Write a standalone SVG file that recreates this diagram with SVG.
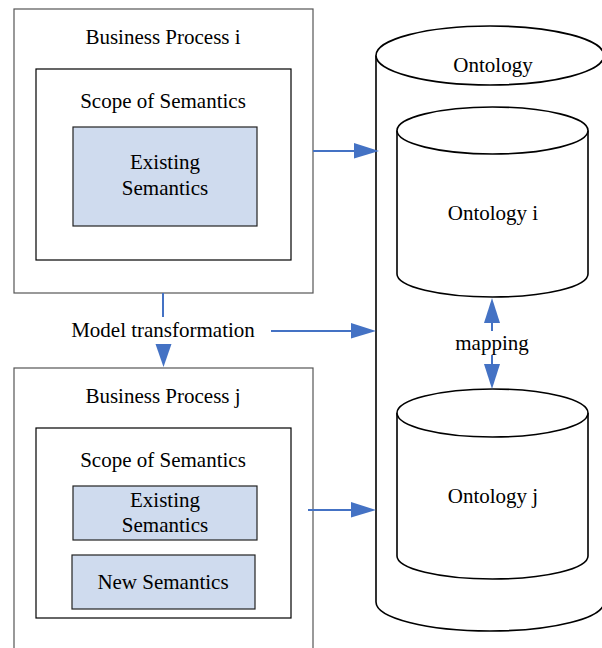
<svg xmlns="http://www.w3.org/2000/svg" width="602" height="648" viewBox="0 0 602 648">
<style>
  text { font-family: "Liberation Serif", "Times New Roman", serif; font-size: 21px; fill: #000; text-anchor: middle; }
  .outer { fill: #fff; stroke: #555; stroke-width: 1.2; }
  .scope { fill: #fff; stroke: #000; stroke-width: 1.2; }
  .sem { fill: #cfdbee; stroke: #222; stroke-width: 1.2; }
  .cyl { fill: #fff; stroke: #000; stroke-width: 1.6; }
  .conn { stroke: #4472c4; stroke-width: 2; fill: none; }
  .head { fill: #4472c4; stroke: none; }
</style>
<rect width="602" height="648" fill="#fff"/>

<g id="bp-i">
  <rect class="outer" x="14" y="9" width="299" height="284"/>
  <text x="163" y="44">Business Process i</text>
  <g id="scope-i">
    <rect class="scope" x="36" y="69" width="255" height="191"/>
    <text x="163" y="108">Scope of Semantics</text>
  </g>
  <g id="existing-i">
    <rect class="sem" x="73" y="127" width="184" height="99"/>
    <text x="165" y="169">Existing</text>
    <text x="165" y="195">Semantics</text>
  </g>
</g>

<g id="bp-j">
  <rect class="outer" x="14" y="368" width="299" height="290"/>
  <text x="163" y="403">Business Process j</text>
  <g id="scope-j">
    <rect class="scope" x="36" y="428" width="255" height="190"/>
    <text x="163" y="467">Scope of Semantics</text>
  </g>
  <g id="existing-j">
    <rect class="sem" x="73" y="486" width="184" height="54"/>
    <text x="165" y="507">Existing</text>
    <text x="165" y="532">Semantics</text>
  </g>
  <g id="new-j">
    <rect class="sem" x="72" y="555" width="183" height="54"/>
    <text x="163" y="589">New Semantics</text>
  </g>
</g>

<g id="ontology">
  <path class="cyl" d="M376,55.5 L376,602 A114,29 0 0 0 604,602 L604,55.5"/>
  <ellipse class="cyl" cx="490" cy="55.5" rx="114" ry="29.5"/>
  <text x="493" y="72">Ontology</text>
</g>

<g id="ontology-i">
  <path class="cyl" d="M397,130.5 L397,274 A95.5,23 0 0 0 588,274 L588,130.5"/>
  <ellipse class="cyl" cx="492.5" cy="130.5" rx="95.5" ry="23.5"/>
  <text x="493" y="220">Ontology i</text>
</g>

<g id="ontology-j">
  <path class="cyl" d="M397,413 L397,556 A95.5,23 0 0 0 588,556 L588,413"/>
  <ellipse class="cyl" cx="492.5" cy="413" rx="95.5" ry="24"/>
  <text x="493" y="503">Ontology j</text>
</g>

<g id="connectors">
  <line class="conn" x1="313" y1="151" x2="356" y2="151"/>
  <polygon class="head" points="354,143 379,151 354,158.5"/>

  <line class="conn" x1="271" y1="331" x2="353" y2="331"/>
  <polygon class="head" points="351,323 376,331 351,338.5"/>

  <line class="conn" x1="308" y1="510" x2="353" y2="510"/>
  <polygon class="head" points="351,502 376,510 351,517.5"/>

  <line class="conn" x1="163" y1="293" x2="163" y2="317"/>
  <polygon class="head" points="155.5,344 171.5,344 163.5,367"/>
  <text x="163" y="337">Model transformation</text>

  <line class="conn" x1="492" y1="321" x2="492" y2="331"/>
  <polygon class="head" points="492,298 500,323 484,323"/>
  <line class="conn" x1="492" y1="355" x2="492" y2="366"/>
  <polygon class="head" points="484,364 500,364 492,389"/>
  <text x="492" y="350">mapping</text>
</g>
</svg>
